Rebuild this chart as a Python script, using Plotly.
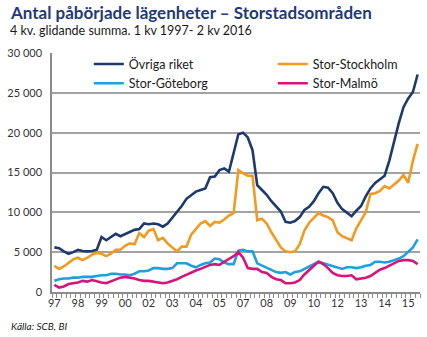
import plotly.graph_objects as go

# Quarterly data, 1 kv 1997 - 2 kv 2016 (4-quarter rolling sum)
quarters = list(range(78))

ovriga_riket = [
    5600, 5500, 5100, 4800, 5000, 5300, 5150, 5100, 5150, 5300,
    6900, 6500, 6900, 7300, 7000, 7300, 7600, 7800, 7900, 8600,
    8500, 8600, 8500, 8200, 8600, 9300, 10000, 10800, 11700, 12200,
    12600, 12800, 13000, 14400, 14500, 15300, 15500, 15100, 17300, 19800,
    20000, 19400, 17800, 13400, 12800, 12200, 11400, 10800, 10100, 8800,
    8700, 8900, 9400, 10300, 10700, 11400, 12400, 13200, 13100, 12400,
    11200, 10400, 9900, 9500, 10200, 10800, 12000, 13000, 13700, 14200,
    14600, 16500, 19000, 21200, 23200, 24300, 25100, 27300,
]

stor_stockholm = [
    3300, 2900, 3200, 3700, 4100, 4300, 4000, 4300, 4700, 4900,
    4800, 4500, 4800, 5300, 5300, 5800, 6100, 6000, 7400, 6900,
    7700, 7900, 6500, 6800, 6100, 5600, 5100, 5700, 5700, 7200,
    7900, 8600, 8900, 8300, 8800, 8700, 9100, 9600, 9900, 15300,
    14900, 14600, 14600, 9000, 9200, 8600, 7500, 6500, 5600, 5100,
    5000, 5100, 6000, 7700, 8700, 9300, 9900, 9600, 9400, 9000,
    7500, 7000, 6700, 6500, 8000, 9000, 10000, 12300, 12400, 12700,
    13300, 13000, 13500, 14000, 14700, 13700, 16500, 18600,
]

stor_goteborg = [
    1400, 1600, 1700, 1700, 1800, 1800, 1900, 1900, 1900, 2000,
    2100, 2100, 2300, 2300, 2200, 2200, 2100, 2300, 2600, 2600,
    2700, 3000, 3000, 2900, 2900, 3000, 3600, 3600, 3600, 3300,
    3100, 3400, 3600, 3700, 4200, 4100, 3700, 3500, 3500, 5200,
    5300, 5100, 5100, 3600, 3300, 3100, 2700, 2500, 2400, 2500,
    2200, 2500, 2600, 2900, 3100, 3500, 3800, 3600, 3400, 3200,
    3000, 2900, 3100, 3100, 3000, 3100, 3300, 3400, 3800, 3800,
    3700, 3800, 4000, 4200, 4500, 5000, 5600, 6600,
]

stor_malmo = [
    900, 550, 700, 1000, 1100, 1200, 1400, 1300, 1500, 1300,
    1200, 1100, 1300, 1600, 1800, 1900, 1800, 1700, 1500, 1400,
    1400, 1300, 1200, 1100, 1200, 1400, 1600, 1900, 2200, 2500,
    2700, 2900, 3100, 3400, 3500, 3400, 3800, 4100, 4500, 5000,
    4300, 3000, 2900, 2900, 2500, 2400, 1900, 1600, 1500, 1100,
    1100, 1200, 1500, 2200, 2800, 3300, 3800, 3500, 3000, 2400,
    2100, 2000, 2000, 2100, 1600, 1700, 1800, 2000, 2400, 2800,
    3000, 3300, 3700, 3900, 4000, 4000, 3900, 3500,
]

# Year labels every fifth quarter
tick_positions = list(range(0, 78, 5))
tick_labels = ["97", "98", "99", "00", "02", "03", "04", "05",
               "07", "08", "09", "10", "12", "13", "14", "15"]

y_ticks = [0, 5000, 10000, 15000, 20000, 25000, 30000]
y_tick_labels = ["0", "5 000", "10 000", "15 000", "20 000", "25 000", "30 000"]

FONT = "Lato"

fig = go.Figure()

series = [
    ("Övriga riket", ovriga_riket, "#1c3a6e", "legend"),
    ("Stor-Stockholm", stor_stockholm, "#f29a1e", "legend2"),
    ("Stor-Göteborg", stor_goteborg, "#1ea0dc", "legend"),
    ("Stor-Malmö", stor_malmo, "#d8137b", "legend2"),
]
for name, vals, color, leg in series:
    fig.add_trace(go.Scatter(
        x=quarters, y=vals, name=name, mode="lines",
        line=dict(color=color, width=2.6),
        legend=leg,
    ))

legend_style = dict(
    bgcolor="rgba(0,0,0,0)",
    font=dict(family=FONT, size=12.5, color="#1a1a1a"),
    orientation="v",
    xanchor="left", yanchor="top",
    tracegroupgap=0,
    itemwidth=30,
)

fig.update_layout(
    width=427, height=337,
    margin=dict(l=43, r=7, t=53, b=45),
    paper_bgcolor="white",
    plot_bgcolor="white",
    showlegend=True,
    legend=dict(x=0.1, y=1.015, **legend_style),
    legend2=dict(x=0.6, y=1.015, **legend_style),
    font=dict(family=FONT, color="#333333"),
    xaxis=dict(
        range=[-0.5, 77.5],
        tickvals=tick_positions,
        ticktext=tick_labels,
        ticks="",
        showgrid=False,
        zeroline=False,
        showline=True,
        linecolor="#8c8c8c",
        linewidth=1.5,
        tickfont=dict(family=FONT, size=11, color="#333333"),
        minor=dict(ticks="outside", tick0=-0.5, dtick=1, ticklen=4,
                   tickcolor="#8c8c8c", tickwidth=1, showgrid=False),
        fixedrange=True,
    ),
    yaxis=dict(
        range=[0, 30000],
        tickvals=y_ticks,
        ticktext=y_tick_labels,
        showgrid=True,
        gridcolor="#a3a3a3",
        gridwidth=1.5,
        zeroline=False,
        showline=True,
        linecolor="#8c8c8c",
        linewidth=1.5,
        ticks="",
        ticklabelstandoff=6,
        tickfont=dict(family=FONT, size=11, color="#333333"),
        fixedrange=True,
    ),
)

fig.add_annotation(
    text="<b>Antal påbörjade lägenheter – Storstadsområden</b>",
    xref="paper", yref="paper", x=0, y=1, xshift=-44, yshift=53,
    xanchor="left", yanchor="top", showarrow=False,
    font=dict(family=FONT, size=17, color="#1f3a78"),
)
fig.add_annotation(
    text="4 kv. glidande summa. 1 kv 1997- 2 kv 2016",
    xref="paper", yref="paper", x=0, y=1, xshift=-44, yshift=53 - 21,
    xanchor="left", yanchor="top", showarrow=False,
    font=dict(family=FONT, size=12.5, color="#1a1a1a"),
)
fig.add_annotation(
    text="<i>Källa: SCB, BI</i>",
    xref="paper", yref="paper", x=0, y=0, xshift=-43, yshift=-26,
    xanchor="left", yanchor="top", showarrow=False,
    font=dict(family=FONT, size=10, color="#1a1a1a"),
)

fig.write_html("out.html")
